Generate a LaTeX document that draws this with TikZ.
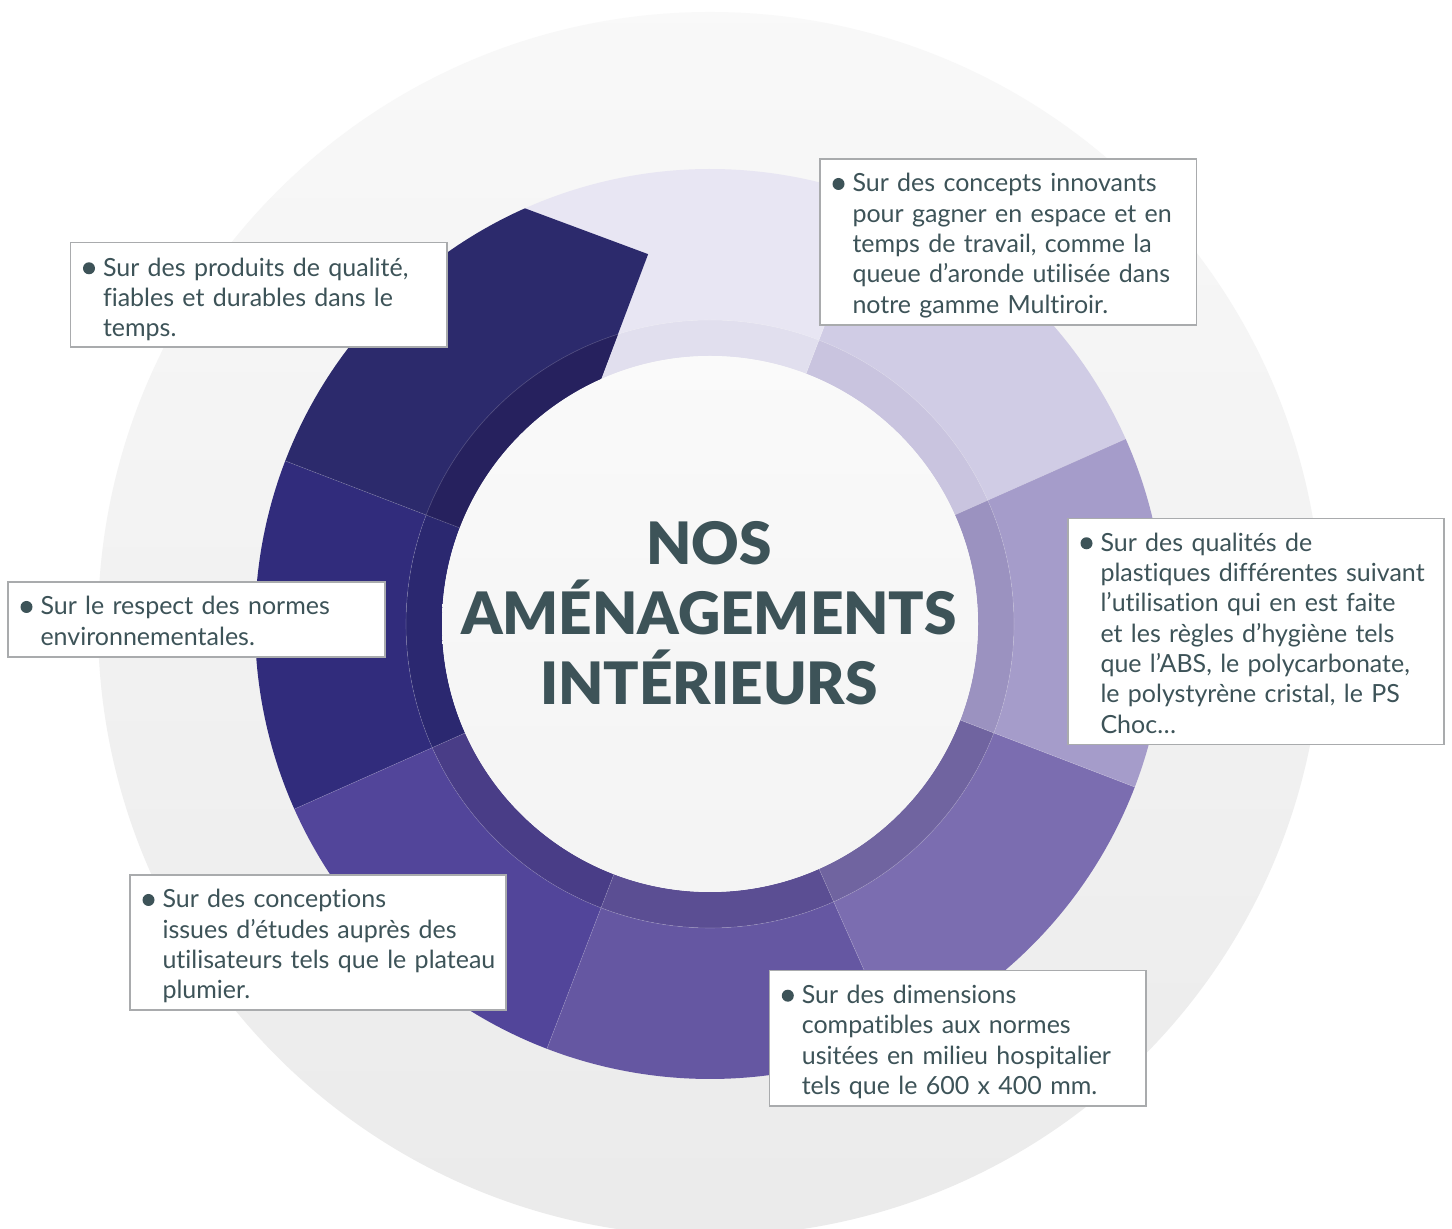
\documentclass[tikz,border=0pt]{standalone}
\usepackage{fontspec}
\setmainfont{Lato}[Ligatures=CommonOff]
\newfontfamily\titlefont{Lato Black}
\usetikzlibrary{calc}
\definecolor{ink}{HTML}{3D5358}
\definecolor{boxgray}{HTML}{A9ABAD}
\definecolor{wA}{HTML}{D0CCE5}\definecolor{bA}{HTML}{C9C4DF}
\definecolor{wB}{HTML}{E8E6F3}\definecolor{bB}{HTML}{E1DFEE}
\definecolor{wC}{HTML}{2C2A6C}\definecolor{bC}{HTML}{26215E}
\definecolor{wD}{HTML}{312C7C}\definecolor{bD}{HTML}{2B2870}
\definecolor{wE}{HTML}{52459A}\definecolor{bE}{HTML}{493D87}
\definecolor{wF}{HTML}{6557A2}\definecolor{bF}{HTML}{5B4E93}
\definecolor{wG}{HTML}{7B6DB0}\definecolor{bG}{HTML}{7064A0}
\definecolor{wH}{HTML}{A59CCA}\definecolor{bH}{HTML}{9B92C0}
\newcommand\mywedge[4]{%
  \fill[#3] ([shift={(#1:455)}]C) arc[start angle=#1,end angle=#2,radius=455]
     -- ([shift={(#2:304)}]C) arc[start angle=#2,end angle=#1,radius=304] -- cycle;
  \fill[#4] ([shift={(#1:304)}]C) arc[start angle=#1,end angle=#2,radius=304]
     -- ([shift={(#2:268)}]C) arc[start angle=#2,end angle=#1,radius=268] -- cycle;}
\newcommand\darkpath{([shift={(159:455)}]C) arc[start angle=159,end angle=114,radius=455]
     -- ([shift={(99.5:375)}]C) -- ([shift={(114:268)}]C)
     arc[start angle=114,end angle=159,radius=268] -- cycle}
\tikzset{
  box/.style={draw=boxgray,line width=1.5pt,fill=white,anchor=north west,inner sep=0pt,outer sep=0pt},
  txt/.style={anchor=base west,inner sep=0pt,outer sep=0pt,text width=400pt,align=left,
    font=\fontsize{25}{30.3}\selectfont,text=ink},
  ttl/.style={anchor=base,inner sep=0pt,font=\titlefont\fontsize{58.5}{70}\selectfont,text=ink},
  seam/.style={white,opacity=0.2,line width=0.6pt},
  bul/.style={fill=ink}
}
\begin{document}
\begin{tikzpicture}[x=1pt,y=1pt]
\useasboundingbox (0,0) rectangle (1452,1229);
\fill[white] (0,0) rectangle (1452,1229);
\coordinate (C) at (710,605);
% background disc
\shade[top color=black!2.5,bottom color=black!8] (C) circle (612);
% wedges
\mywedge{24}{69}{wA}{bA}
\mywedge{69}{114}{wB}{bB}
\mywedge{159}{204}{wD}{bD}
\mywedge{204}{249}{wE}{bE}
\mywedge{249}{294}{wF}{bF}
\mywedge{294}{339}{wG}{bG}
\mywedge{339}{384}{wH}{bH}
% dark wedge with its odd pointed edge
\begin{scope}
  \fill[wC] \darkpath;
  \clip \darkpath;
  \fill[bC] (C) circle (304);
\end{scope}
% seams
\foreach \a in {24,69,159,204,249,294,339}{
  \draw[seam] ([shift={(\a:268)}]C) -- ([shift={(\a:455)}]C);}
\draw[seam] (C) circle (304);
% inner disc
\shade[top color=black!2,bottom color=black!4.5] (C) circle (268);
% title
\node[ttl] (t1) at (709,664) {NOS};
\node[ttl] (t2) at (709,594) {AMÉNAGEMENTS};
\node[ttl] (t3) at (709,524) {INTÉRIEURS};
% boxes
\node[box,minimum width=376.5pt,minimum height=104.5pt] (b1) at (70.5,986.7) {};
\node[txt] (x1) at ($(b1.north west)+(32.5,-34)$) {Sur des produits de qualité,\\fiables et durables dans le\\temps.};
\fill[bul] ($(x1.base west)+(-14,8)$) circle (6);

\node[box,minimum width=376.5pt,minimum height=166pt] (b2) at (820,1070) {};
\node[txt] (x2) at ($(b2.north west)+(32.5,-33)$) {Sur des concepts innovants\\pour gagner en espace et en\\temps de travail, comme la\\queue d’aronde utilisée dans\\notre gamme Multiroir.};
\fill[bul] ($(x2.base west)+(-14,8)$) circle (6);

\node[box,minimum width=376pt,minimum height=226pt] (b3) at (1068,710.7) {};
\node[txt] (x3) at ($(b3.north west)+(32.5,-33)$) {Sur des qualités de\\plastiques différentes suivant\\l’utilisation qui en est faite\\et les règles d’hygiène tels\\que l’ABS, le polycarbonate,\\le polystyrène cristal, le PS\\Choc…};
\fill[bul] ($(x3.base west)+(-14,8)$) circle (6);

\node[box,minimum width=377pt,minimum height=75pt] (b4) at (8,647) {};
\node[txt] (x4) at ($(b4.north west)+(32.5,-33)$) {Sur le respect des normes\\environnementales.};
\fill[bul] ($(x4.base west)+(-14,8)$) circle (6);

\node[box,minimum width=376pt,minimum height=135pt] (b5) at (130,354) {};
\node[txt] (x5) at ($(b5.north west)+(32.5,-33)$) {Sur des conceptions\\issues d’études auprès des\\utilisateurs tels que le plateau\\plumier.};
\fill[bul] ($(x5.base west)+(-14,8)$) circle (6);

\node[box,minimum width=376.7pt,minimum height=135.3pt] (b6) at (769.3,258.3) {};
\node[txt] (x6) at ($(b6.north west)+(32.5,-33)$) {Sur des dimensions\\compatibles aux normes\\usitées en milieu hospitalier\\tels que le 600 x 400 mm.};
\fill[bul] ($(x6.base west)+(-14,8)$) circle (6);
\end{tikzpicture}
\end{document}
